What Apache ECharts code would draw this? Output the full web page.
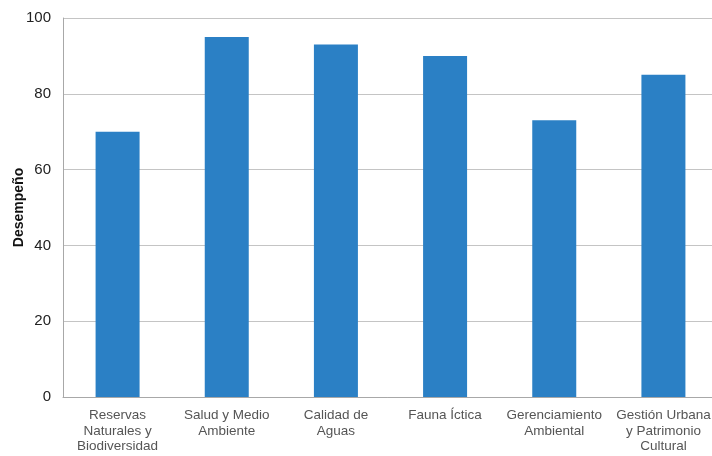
<!DOCTYPE html>
<html><head><meta charset="utf-8">
<script src="https://cdn.jsdelivr.net/npm/echarts@6/dist/echarts.min.js"></script>
<style>html,body{margin:0;padding:0;background:#fff}#c{width:712px;height:456px}</style>
</head><body><div id="c"></div>
<script>
const categories = ["Reservas\nNaturales y\nBiodiversidad", "Salud y Medio\nAmbiente", "Calidad de\nAguas", "Fauna Íctica", "Gerenciamiento\nAmbiental", "Gestión Urbana\ny Patrimonio\nCultural"];
const values = [70, 95, 93, 90, 73, 85];
const yTicks = [0, 20, 40, 60, 80, 100];

const chart = echarts.init(document.getElementById('c'), null, {renderer: 'canvas'});
chart.setOption({
  animation: false,
  grid: {left: 63, top: 18, width: 655, bottom: 59, containLabel: false, outerBoundsMode: 'none'},
  xAxis: {
    type: 'category', data: categories,
    axisLine: {lineStyle: {color: '#a8a8a8', width: 1}},
    axisTick: {show: false},
    axisLabel: {interval: 0, color: '#555', fontFamily: 'Liberation Sans, Arial, sans-serif', fontSize: 13.5, lineHeight: 15.5, margin: 11}
  },
  yAxis: {
    type: 'value', min: 0, max: 100, interval: 20,
    name: 'Desempeño', nameLocation: 'middle', nameGap: 37, nameRotate: 90, nameMoveOverlap: false,
    nameTextStyle: {color: '#111', fontWeight: 'bold', fontSize: 14, fontFamily: 'Liberation Sans, Arial, sans-serif'},
    axisLine: {show: true, lineStyle: {color: '#a8a8a8'}},
    axisTick: {show: false},
    splitLine: {lineStyle: {color: '#c4c4c4', width: 1}},
    axisLabel: {color: '#222', fontSize: 15, fontFamily: 'Liberation Sans, Arial, sans-serif', margin: 12,
      formatter: v => yTicks.includes(v) ? String(v) : ''}
  },
  series: [{type: 'bar', data: values, barWidth: 44, itemStyle: {color: '#2b80c5'}}]
});
</script></body></html>
